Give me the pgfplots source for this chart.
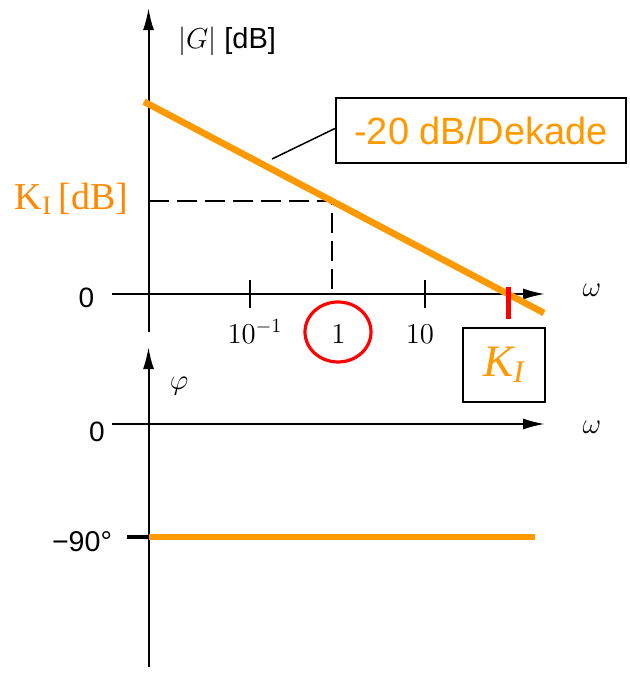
\documentclass[border=0pt]{standalone}
\usepackage{pgfplots}
\pgfplotsset{compat=1.18}
\usetikzlibrary{arrows.meta}
\usepackage{fontspec}
\setmainfont{Liberation Sans}
\newfontfamily\seriffont{Liberation Serif}
\definecolor{bodeorange}{RGB}{255,153,0}
\definecolor{kiorange}{RGB}{255,136,0}
\tikzset{axarrow/.style={line width=1pt, -{Latex[length=11pt,width=5.5pt]}}}
\begin{document}
\begin{tikzpicture}[x=1pt,y=1pt]
\path[use as bounding box] (0,0) rectangle (314.5,337.5);
% ---------------- magnitude ----------------
\begin{axis}[at={(50pt,167.5pt)}, anchor=south west, scale only axis,
  width=250pt, height=170pt,
  xmin=-2.63636, xmax=3.04545, ymin=-19.785, ymax=126.452,
  axis lines=none, clip=false]
  % axes
  \draw[axarrow] (axis cs:-2.5,0) -- (axis cs:2.4205,0);
  \draw[axarrow] (axis cs:-2.0852,-16.34) -- (axis cs:-2.0852,123.0);
  \draw[line width=1pt] (axis cs:-0.9318,6) -- (axis cs:-0.9318,-6);
  \draw[line width=1pt] (axis cs:1.0568,6) -- (axis cs:1.0568,-6);
  % dashed guide
  \draw[line width=1pt, dash pattern=on 10pt off 4pt] (axis cs:-2.0852,40) -- (axis cs:0,40) -- (axis cs:0,0);
  % magnitude line: |G| = 20 log10(K_I/omega), K_I = 100
  \addplot[bodeorange, line width=3.3pt] coordinates {(-2.136,82.72) (2.409,-8.18)};
  % red tick at K_I
  \draw[red, line width=2.5pt] (axis cs:2,3.0) -- (axis cs:2,-10.75);
  % tick labels
  \node[anchor=base, font=\fontsize{14}{17}\selectfont] at (axis cs:-0.875,-21.08) {$10^{-1}$};
  \node[anchor=base, font=\fontsize{14}{17}\selectfont] at (axis cs:0.0739,-21.08) {$1$};
  \node[anchor=base, font=\fontsize{14}{17}\selectfont] at (axis cs:1.0,-21.08) {$10$};
  \draw[red, line width=1.6pt] (axis cs:0.0682,-16.34) ellipse [x radius=16.5pt, y radius=15pt];
  % labels
  \node[font=\fontsize{14}{17}\selectfont] at (axis cs:-2.7898,-1.72) {0};
  \node[font=\fontsize{15}{18}\selectfont] at (axis cs:2.9545,1.72) {$\omega$};
  \node[font=\fontsize{14.5}{18}\selectfont] at (axis cs:-1.193,108.8) {$|G|$ [dB]};
  \node[kiorange, font=\seriffont\fontsize{19}{22}\selectfont] at (axis cs:-2.960,40.86) {K\textsubscript{I}\,[dB]};
  \node[draw=black, line width=1pt, minimum width=145pt, minimum height=32.5pt, inner sep=0pt,
        text=bodeorange, font=\fontsize{19}{22}\selectfont] at (axis cs:1.693,70.32) {-20 dB/Dekade};
  \draw[line width=0.75pt] (axis cs:-0.6818,58.06) -- (axis cs:0.04545,71.4);
  \node[draw=black, line width=1pt, minimum width=41pt, minimum height=37pt, inner sep=0pt,
        text=bodeorange, font=\seriffont\itshape\fontsize{22.5}{26}\selectfont] at (axis cs:1.9545,-30.54) {K\textsubscript{I}};
\end{axis}
% ---------------- phase ----------------
\begin{axis}[at={(50pt,0pt)}, anchor=south west, scale only axis,
  width=250pt, height=167.5pt,
  xmin=-2.63636, xmax=3.04545, ymin=-199.9, ymax=66.9,
  axis lines=none, clip=false]
  \draw[axarrow] (axis cs:-2.5,0) -- (axis cs:2.4205,0);
  \draw[axarrow] (axis cs:-2.0852,-193.5) -- (axis cs:-2.0852,61.3);
  \draw[line width=1.6pt] (axis cs:-2.3295,-90) -- (axis cs:-2.0852,-90);
  \addplot[bodeorange, line width=3pt] coordinates {(-2.0852,-90) (2.3068,-90)};
  \node[font=\fontsize{14}{17}\selectfont] at (axis cs:-2.6705,-6.37) {0};
  \node[font=\fontsize{15}{18}\selectfont] at (axis cs:2.9545,-2.39) {$\omega$};
  \node[font=\fontsize{15.5}{18}\selectfont] at (axis cs:-1.7386,30.26) {$\varphi$};
  \node[font=\fontsize{14.3}{17}\selectfont] at (axis cs:-2.8409,-93.98) {−90°};
\end{axis}
\end{tikzpicture}
\end{document}
